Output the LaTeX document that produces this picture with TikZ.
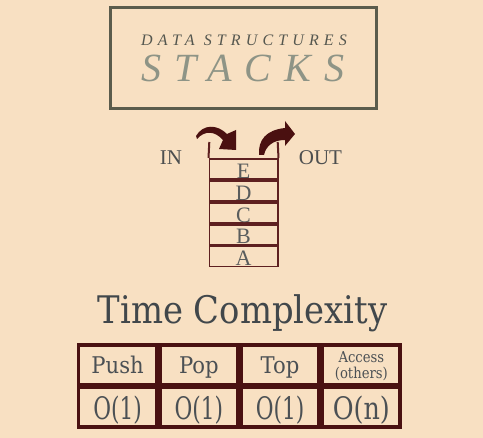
\documentclass[tikz,border=0pt]{standalone}
\usepackage{fontspec}
\setmainfont{Liberation Serif}
\newfontfamily\dvs{DejaVu Serif}
\newfontfamily\spacedsmall[LetterSpace=32]{Liberation Serif}
\newfontfamily\spacedbig[LetterSpace=33]{Liberation Serif}
\newcommand{\cnd}[1]{\scalebox{0.7}[1]{#1}}
\definecolor{bg}{HTML}{F8E0C2}
\definecolor{framecol}{HTML}{5B5C4C}
\definecolor{dsgrey}{HTML}{55574F}
\definecolor{stackgrey}{HTML}{8E9486}
\definecolor{txtgrey}{HTML}{4D4F4F}
\definecolor{letgrey}{HTML}{5A5D5D}
\definecolor{titlegrey}{HTML}{41474B}
\definecolor{cellgrey}{HTML}{4B5054}
\definecolor{tblborder}{HTML}{4A1111}
\definecolor{stackline}{HTML}{5E2020}
\definecolor{arrowcol}{HTML}{4A1010}
\tikzset{
  stackbox/.style={draw=stackline, line width=1.8pt, minimum width=68.2pt, minimum height=20.2pt, inner sep=0pt, text=letgrey, font=\fontsize{22}{22}\selectfont, text depth=0pt},
  cell/.style={draw=tblborder, line width=3.5pt, minimum width=77.75pt, minimum height=39.5pt, inner sep=0pt, text=cellgrey, text depth=0pt},
  sidelabel/.style={anchor=base, text=txtgrey, font=\fontsize{21}{21}\selectfont, inner sep=0pt},
  curvedarrow/.style={fill=arrowcol, draw=none}
}
\begin{document}
\begin{tikzpicture}[x=1pt,y=-1pt]
\useasboundingbox (0,0) rectangle (483,438);
\fill[bg] (0,0) rectangle (483,438);
% title frame
\node[draw=framecol, line width=3pt, minimum width=266pt, minimum height=101pt, inner sep=0pt] (titlebox) at (243.5,58) {};
\node[anchor=base, inner sep=0pt, text=dsgrey] (dstext) at (244,45.7) {\spacedsmall\itshape\fontsize{16}{16}\selectfont DATA STRUCTURES};
\node[anchor=base, inner sep=0pt, text=stackgrey] (stacktext) at (243,81.7) {\spacedbig\itshape\fontsize{40}{40}\selectfont STACKS};
% stack
\node[stackbox] (E) at (243.5,169) {\raisebox{-2pt}[\height][\depth]{E}};
\node[stackbox] (D) at (243.5,191) {\raisebox{-2pt}[\height][\depth]{D}};
\node[stackbox] (C) at (243.5,212.75) {\raisebox{-2pt}[\height][\depth]{C}};
\node[stackbox] (B) at (243.5,234.75) {\raisebox{-2pt}[\height][\depth]{B}};
\node[stackbox] (A) at (243.5,256.5) {\raisebox{-2pt}[\height][\depth]{A}};
\coordinate (wl) at (209.3,142);
\coordinate (wr) at (277.7,142);
\draw[stackline, line width=2pt] (wl) -- (E.north west);
\draw[stackline, line width=2pt] (wr) -- (E.north east);
\node[sidelabel] (in) at (171,165) {IN};
\node[sidelabel] (out) at (320.5,165) {OUT};
% arrows
\fill[curvedarrow] (196,136) .. controls (203,124) and (217,124) .. (227,134)
  -- (236,130) -- (236,150) -- (219,149) -- (223,140)
  .. controls (215,131) and (205,130) .. (197,139) -- cycle;
\fill[curvedarrow] (259,155) .. controls (258,140) and (266,130) .. (285,128)
  -- (285,121) -- (295,134) -- (285,146) -- (285,140)
  .. controls (273,140) and (266,146) .. (264,155) -- cycle;
% time complexity
\node[anchor=base, inner sep=0pt, text=titlegrey] (tc) at (242.5,323.3) {\scalebox{0.89}[1]{\dvs\fontsize{38}{38}\selectfont Time Complexity}};
\node[cell, font=\dvs\fontsize{23}{23}\selectfont] (push) at (117.6,364.75) {\scalebox{0.92}[1]{Push}};
\node[cell, font=\dvs\fontsize{23}{23}\selectfont] (pop) at (198.85,364.75) {\scalebox{0.92}[1]{Pop}};
\node[cell, font=\dvs\fontsize{23}{23}\selectfont] (top) at (280.1,364.75) {\scalebox{0.92}[1]{Top}};
\node[cell, font=\dvs\fontsize{15}{15}\selectfont] (access) at (361.35,364.75) {\scalebox{0.88}[1]{\begin{tabular}[b]{@{}c@{}}Access\\(others)\end{tabular}}};
\node[cell, font=\dvs\fontsize{31}{31}\selectfont] (o1a) at (117.6,407.5) {\cnd{O(1)}};
\node[cell, font=\dvs\fontsize{31}{31}\selectfont] (o1b) at (198.85,407.5) {\cnd{O(1)}};
\node[cell, font=\dvs\fontsize{31}{31}\selectfont] (o1c) at (280.1,407.5) {\cnd{O(1)}};
\node[cell, font=\dvs\fontsize{31}{31}\selectfont] (on) at (361.35,407.5) {\scalebox{0.82}[1]{O(n)}};
\end{tikzpicture}
\end{document}
